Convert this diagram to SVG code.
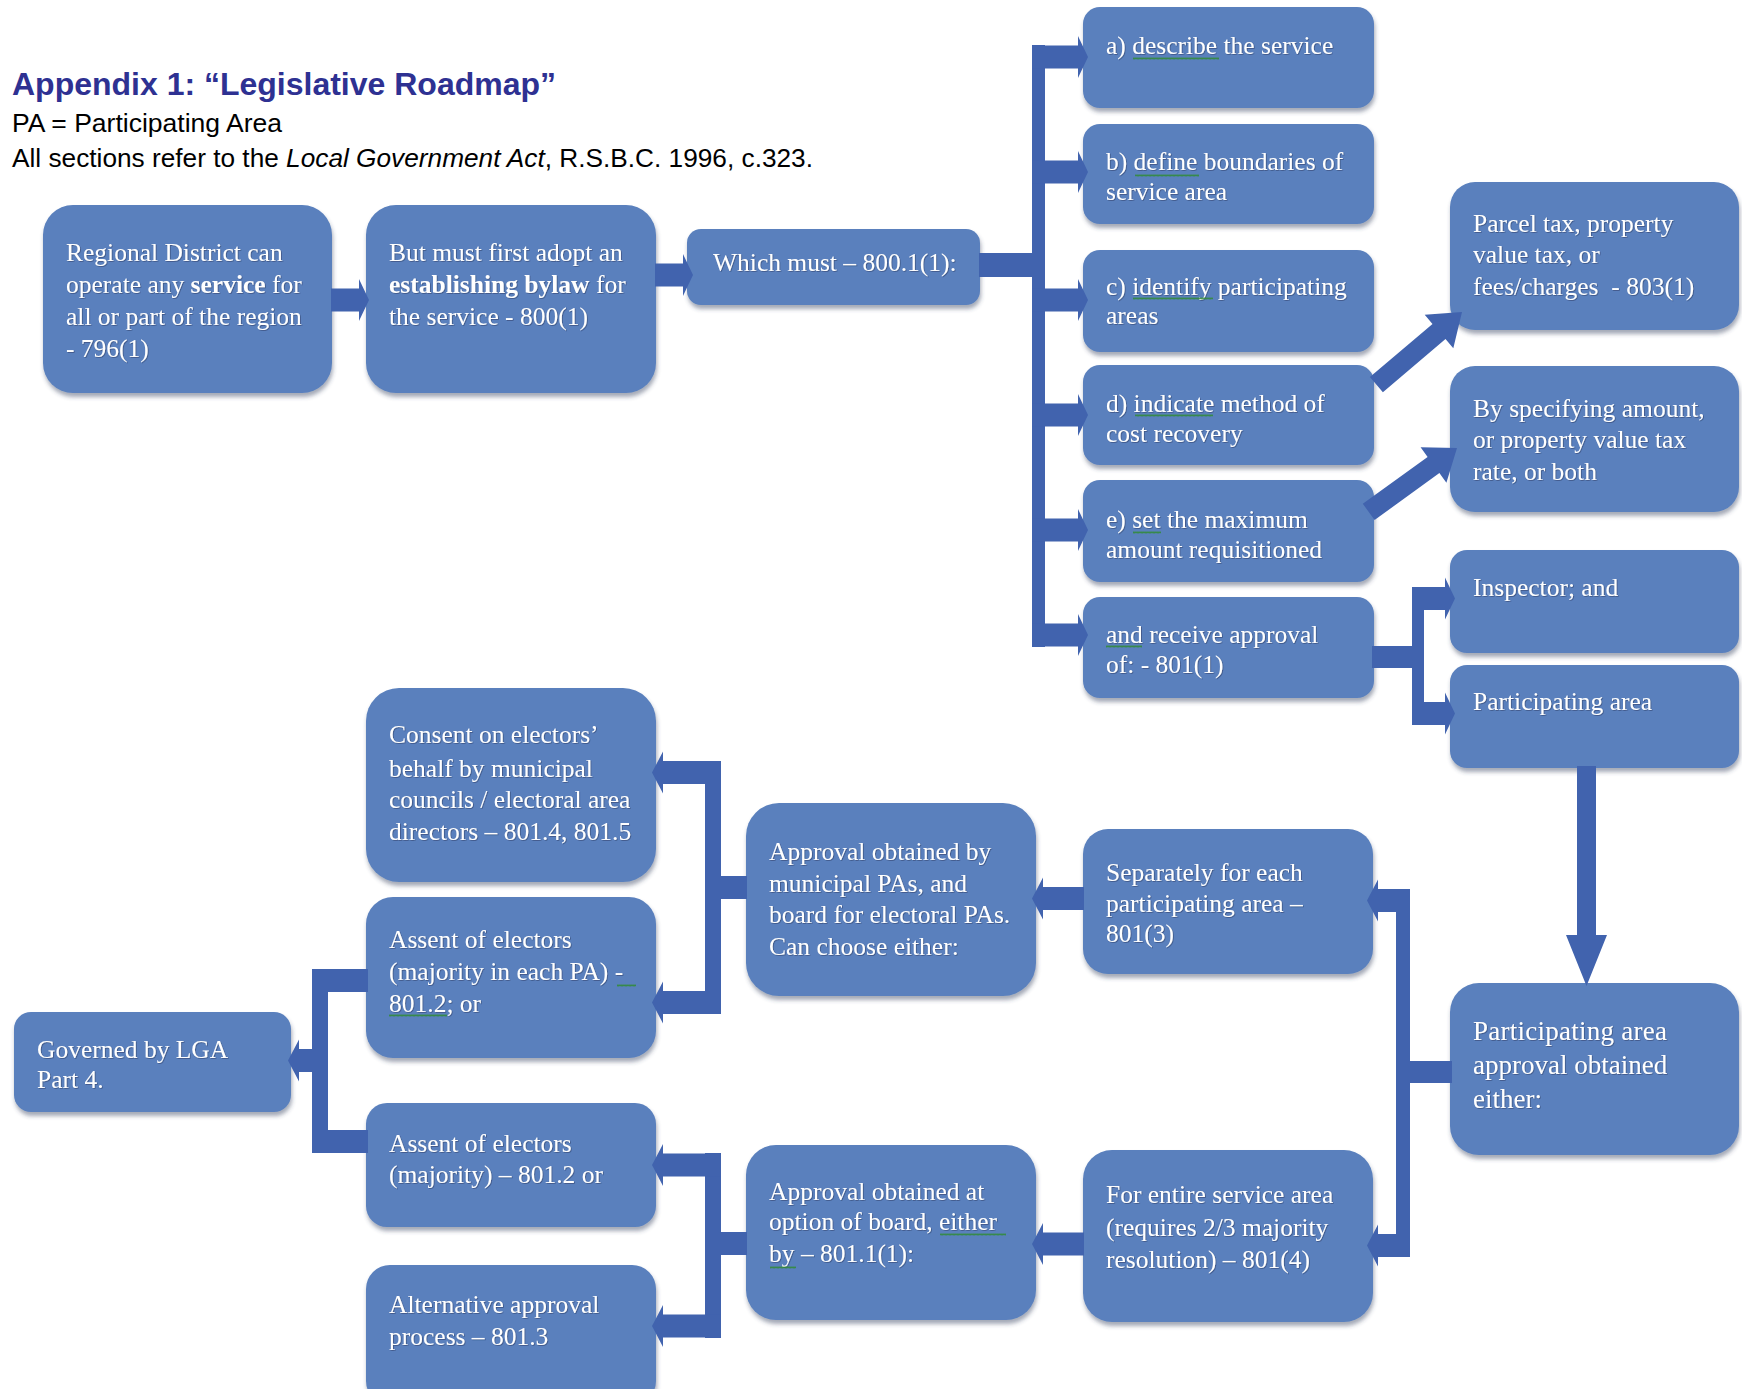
<svg xmlns="http://www.w3.org/2000/svg" width="1742" height="1389" viewBox="0 0 1742 1389">
<defs>
<style>
.box{fill:#5A80BD;filter:url(#sh)}
.t{font-family:"Liberation Serif","Times New Roman",serif;font-size:25.5px;fill:#fff;filter:url(#ts)}
.tb{font-weight:bold}
.c{fill:#4163AE}
.hd{font-family:"Liberation Sans",Arial,sans-serif;fill:#000}
.sq{fill:url(#wavy)}
</style>
<filter id="sh" x="-5%" y="-5%" width="112%" height="125%"><feDropShadow dx="1" dy="4" stdDeviation="2" flood-color="#34415e" flood-opacity="0.45"/></filter>
<filter id="ts" x="-2%" y="-20%" width="104%" height="140%"><feDropShadow dx="0.8" dy="0.8" stdDeviation="0.6" flood-color="#1b2a4a" flood-opacity="0.5"/></filter>
<pattern id="wavy" width="4" height="3" patternUnits="userSpaceOnUse"><path d="M0 2.5 L1 0.5 L2 2.5 L3 0.5 L4 2.5" fill="none" stroke="#2e8b2e" stroke-width="0.8"/></pattern>
</defs>
<rect width="1742" height="1389" fill="#fff"/>

<g id="header">
<text class="hd" x="12" y="95" font-size="32" font-weight="bold" fill="#2E3192" style="fill:#2E3192" textLength="544" lengthAdjust="spacingAndGlyphs">Appendix 1: “Legislative Roadmap”</text>
<text class="hd" x="12" y="132" font-size="25" textLength="270" lengthAdjust="spacingAndGlyphs">PA = Participating Area</text>
<text class="hd" x="12" y="167" font-size="25" textLength="801" lengthAdjust="spacingAndGlyphs">All sections refer to the <tspan font-style="italic">Local Government Act</tspan>, R.S.B.C. 1996, c.323.</text>
</g>

<g id="n1"><rect class="box" x="43" y="205" width="289" height="188" rx="30"/>
<text class="t" x="66" y="261">Regional District can</text>
<text class="t" x="66" y="293">operate any <tspan class="tb">service</tspan> for</text>
<text class="t" x="66" y="325">all or part of the region</text>
<text class="t" x="66" y="357">- 796(1)</text></g>

<g id="n2"><rect class="box" x="366" y="205" width="290" height="188" rx="30"/>
<text class="t" x="389" y="261">But must first adopt an</text>
<text class="t" x="389" y="293"><tspan class="tb">establishing bylaw</tspan> for</text>
<text class="t" x="389" y="325">the service - 800(1)</text></g>

<g id="n3"><rect class="box" x="687" y="229" width="293" height="76" rx="14"/>
<text class="t" x="713" y="271">Which must – 800.1(1):</text></g>

<g id="n4"><rect class="box" x="1083" y="7" width="291" height="101" rx="17"/>
<text class="t" x="1106" y="54">a) describe the service</text>
<rect class="sq" x="1133" y="57" width="86" height="3"/></g>

<g id="n5"><rect class="box" x="1083" y="124" width="291" height="100" rx="17"/>
<text class="t" x="1106" y="170">b) define boundaries of</text>
<text class="t" x="1106" y="200">service area</text>
<rect class="sq" x="1135" y="174" width="64" height="3"/></g>

<g id="n6"><rect class="box" x="1083" y="250" width="291" height="102" rx="17"/>
<text class="t" x="1106" y="295">c) identify participating</text>
<text class="t" x="1106" y="324">areas</text>
<rect class="sq" x="1133" y="297" width="80" height="3"/></g>

<g id="n7"><rect class="box" x="1083" y="365" width="291" height="100" rx="17"/>
<text class="t" x="1106" y="412">d) indicate method of</text>
<text class="t" x="1106" y="442">cost recovery</text>
<rect class="sq" x="1135" y="414" width="78" height="3"/></g>

<g id="n8"><rect class="box" x="1083" y="480" width="291" height="102" rx="17"/>
<text class="t" x="1106" y="528">e) set the maximum</text>
<text class="t" x="1106" y="558">amount requisitioned</text>
<rect class="sq" x="1133" y="531" width="28" height="3"/></g>

<g id="n9"><rect class="box" x="1083" y="597" width="291" height="101" rx="17"/>
<text class="t" x="1106" y="643">and receive approval</text>
<text class="t" x="1106" y="673">of: - 801(1)</text>
<rect class="sq" x="1106" y="645" width="36" height="3"/></g>

<g id="n10"><rect class="box" x="1450" y="182" width="289" height="148" rx="25"/>
<text class="t" x="1473" y="232">Parcel tax, property</text>
<text class="t" x="1473" y="263">value tax, or</text>
<text class="t" x="1473" y="295" xml:space="preserve">fees/charges  - 803(1)</text></g>

<g id="n11"><rect class="box" x="1450" y="366" width="289" height="146" rx="25"/>
<text class="t" x="1473" y="417">By specifying amount,</text>
<text class="t" x="1473" y="448">or property value tax</text>
<text class="t" x="1473" y="480">rate, or both</text></g>

<g id="n12"><rect class="box" x="1450" y="550" width="289" height="103" rx="17"/>
<text class="t" x="1473" y="596">Inspector; and</text></g>

<g id="n13"><rect class="box" x="1450" y="665" width="289" height="103" rx="17"/>
<text class="t" x="1473" y="710">Participating area</text></g>

<g id="n14"><rect class="box" x="1450" y="983" width="289" height="172" rx="29"/>
<text class="t" x="1473" y="1040" style="font-size:27px" textLength="194" lengthAdjust="spacing">Participating area</text>
<text class="t" x="1473" y="1074" style="font-size:27px">approval obtained</text>
<text class="t" x="1473" y="1108" style="font-size:27px">either:</text></g>

<g id="n15"><rect class="box" x="1083" y="829" width="290" height="145" rx="25"/>
<text class="t" x="1106" y="881">Separately for each</text>
<text class="t" x="1106" y="912">participating area –</text>
<text class="t" x="1106" y="942">801(3)</text></g>

<g id="n16"><rect class="box" x="1083" y="1150" width="290" height="172" rx="29"/>
<text class="t" x="1106" y="1203">For entire service area</text>
<text class="t" x="1106" y="1236">(requires 2/3 majority</text>
<text class="t" x="1106" y="1268">resolution) – 801(4)</text></g>

<g id="n17"><rect class="box" x="746" y="803" width="290" height="193" rx="33"/>
<text class="t" x="769" y="860">Approval obtained by</text>
<text class="t" x="769" y="892">municipal PAs, and</text>
<text class="t" x="769" y="923">board for electoral PAs.</text>
<text class="t" x="769" y="955">Can choose either:</text></g>

<g id="n18"><rect class="box" x="746" y="1145" width="290" height="175" rx="30"/>
<text class="t" x="769" y="1200">Approval obtained at</text>
<text class="t" x="769" y="1230">option of board, either</text>
<text class="t" x="769" y="1262">by – 801.1(1):</text>
<rect class="sq" x="940" y="1233" width="66" height="3"/>
<rect class="sq" x="770" y="1266" width="26" height="3"/></g>

<g id="n19"><rect class="box" x="366" y="688" width="290" height="194" rx="33"/>
<text class="t" x="389" y="743">Consent on electors’</text>
<text class="t" x="389" y="777">behalf by municipal</text>
<text class="t" x="389" y="808">councils / electoral area</text>
<text class="t" x="389" y="840">directors – 801.4, 801.5</text></g>

<g id="n20"><rect class="box" x="366" y="897" width="290" height="161" rx="27"/>
<text class="t" x="389" y="948">Assent of electors</text>
<text class="t" x="389" y="980">(majority in each PA) -</text>
<text class="t" x="389" y="1012">801.2; or</text>
<rect class="sq" x="617" y="984" width="19" height="3"/>
<rect class="sq" x="389" y="1014" width="58" height="3"/></g>

<g id="n21"><rect class="box" x="366" y="1103" width="290" height="124" rx="21"/>
<text class="t" x="389" y="1152">Assent of electors</text>
<text class="t" x="389" y="1183">(majority) – 801.2 or</text></g>

<g id="n22"><rect class="box" x="366" y="1265" width="290" height="140" rx="24"/>
<text class="t" x="389" y="1313">Alternative approval</text>
<text class="t" x="389" y="1345">process – 801.3</text></g>

<g id="n23"><rect class="box" x="14" y="1012" width="277" height="100" rx="17"/>
<text class="t" x="37" y="1058">Governed by LGA</text>
<text class="t" x="37" y="1088">Part 4.</text></g>

<g id="connectors">
<!-- n1 -> n2 -->
<polygon class="c" points="331,288.5 359,288.5 359,279 369,300 359,321 359,311.5 331,311.5"/>
<!-- n2 -> n3 -->
<polygon class="c" points="655,263.5 683,263.5 683,254 693,275 683,296 683,286.5 655,286.5"/>
<!-- n3 comb to a..f -->
<rect class="c" x="979" y="253" width="66" height="24"/>
<rect class="c" x="1032" y="45" width="13" height="602"/>
<polygon class="c" points="1032,45.5 1078,45.5 1078,36 1088,57 1078,78 1078,68.5 1032,68.5"/>
<polygon class="c" points="1032,160.5 1078,160.5 1078,151 1088,172 1078,193 1078,183.5 1032,183.5"/>
<polygon class="c" points="1032,288.5 1078,288.5 1078,279 1088,300 1078,321 1078,311.5 1032,311.5"/>
<polygon class="c" points="1032,403.5 1078,403.5 1078,394 1088,415 1078,436 1078,426.5 1032,426.5"/>
<polygon class="c" points="1032,518.5 1078,518.5 1078,509 1088,530 1078,551 1078,541.5 1032,541.5"/>
<polygon class="c" points="1032,623.5 1078,623.5 1078,614 1088,635 1078,656 1078,646.5 1032,646.5"/>
<!-- d -> parcel -->
<polygon class="c" points="1369.9,377.1 1432.5,323.9 1424.7,314.7 1462,312 1453.3,348.3 1445.5,339.1 1382.9,392.3"/>
<!-- e -> by specifying -->
<polygon class="c" points="1362.8,503.8 1427.6,456.9 1420.6,447.2 1457,448 1446.4,482.8 1439.4,473.1 1374.6,520"/>
<!-- f -> inspector / participating area -->
<rect class="c" x="1372" y="646" width="52" height="22"/>
<rect class="c" x="1412" y="587" width="12" height="138"/>
<polygon class="c" points="1412,587 1445,587 1445,577.5 1455,598.5 1445,619.5 1445,610 1412,610"/>
<polygon class="c" points="1412,702 1445,702 1445,692.5 1455,713.5 1445,734.5 1445,725 1412,725"/>
<!-- participating area -> approval -->
<polygon class="c" points="1577,766 1596,766 1596,935 1607,935 1586.5,986 1566,935 1577,935"/>
<!-- approval either split -->
<rect class="c" x="1396" y="1061" width="56" height="22"/>
<rect class="c" x="1396" y="889" width="14" height="368"/>
<polygon class="c" points="1410,889 1378,889 1378,879.5 1367,900.5 1378,921.5 1378,912 1410,912"/>
<polygon class="c" points="1410,1234 1378,1234 1378,1224.5 1367,1245.5 1378,1266.5 1378,1257 1410,1257"/>
<!-- separately -> approval municipal -->
<polygon class="c" points="1084,887 1043,887 1043,877.5 1032,898.5 1043,919.5 1043,910 1084,910"/>
<!-- entire -> approval option -->
<polygon class="c" points="1084,1232.5 1043,1232.5 1043,1223 1032,1244 1043,1265 1043,1255.5 1084,1255.5"/>
<!-- approval municipal split -->
<rect class="c" x="705" y="876" width="42" height="23"/>
<rect class="c" x="705" y="761" width="16" height="253"/>
<polygon class="c" points="721,761 663,761 663,751.5 652,772.5 663,793.5 663,784 721,784"/>
<polygon class="c" points="721,991 663,991 663,981.5 652,1002.5 663,1023.5 663,1014 721,1014"/>
<!-- approval option split -->
<rect class="c" x="705" y="1232" width="42" height="23"/>
<rect class="c" x="705" y="1153" width="16" height="185"/>
<polygon class="c" points="721,1153.5 663,1153.5 663,1144 652,1165 663,1186 663,1176.5 721,1176.5"/>
<polygon class="c" points="721,1314.5 663,1314.5 663,1305 652,1326 663,1347 663,1337.5 721,1337.5"/>
<!-- assents -> governed -->
<rect class="c" x="312" y="969" width="16" height="184"/>
<rect class="c" x="312" y="969" width="56" height="23"/>
<rect class="c" x="312" y="1130" width="56" height="23"/>
<polygon class="c" points="328,1049 299,1049 299,1039.5 288,1060.5 299,1081.5 299,1072 328,1072"/>
</g>
</svg>
